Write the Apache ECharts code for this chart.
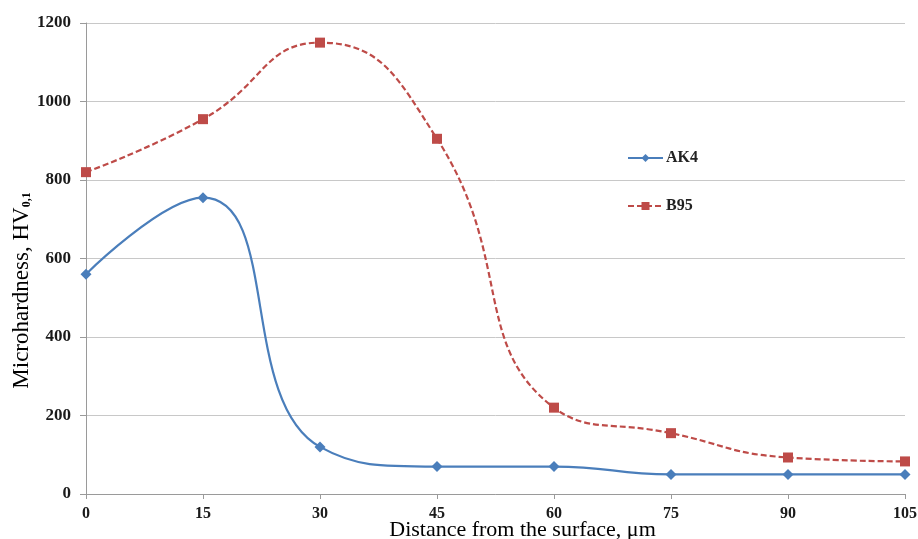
<!DOCTYPE html>
<html><head><meta charset="utf-8">
<script src="https://cdn.jsdelivr.net/npm/echarts@6/dist/echarts.min.js"></script>
<style>html,body{margin:0;padding:0;background:#fff}#c{width:918px;height:539px}</style>
</head><body><div id="c"></div>
<script>
var distances = [0, 15, 30, 45, 60, 75, 90, 105];
var ak4 = [560, 755, 120, 70, 70, 50, 50, 50];
var b95 = [820, 955, 1150, 905, 220, 155, 93, 83];
var yTicks = [0, 200, 400, 600, 800, 1000, 1200];

function pairs(xs, ys){ return xs.map(function(x,i){ return [x, ys[i]]; }); }

var chart = echarts.init(document.getElementById('c'));
var serif = '"Liberation Serif", "Times New Roman", serif';
chart.setOption({
  animation: false,
  backgroundColor: '#fff',
  grid: {left: 86, right: 13, top: 23, bottom: 45, containLabel: false, outerBoundsMode: 'none'},
  legend: {
    orient: 'vertical', left: 622, top: 145, itemGap: 32,
    itemWidth: 35, itemHeight: 10,
    textStyle: {fontFamily: serif, fontWeight: 'bold', fontSize: 16, color: '#222', padding: [0,0,0,-2]},
    data: ['AK4', 'B95']
  },
  xAxis: {
    type: 'value', min: 0, max: 105, interval: 15,
    name: 'Distance from the surface, \u03bcm', nameLocation: 'middle', nameGap: 25,
    nameMoveOverlap: false,
    nameTextStyle: {fontFamily: serif, fontSize: 22, color: '#000', padding: [0,0,0,54]},
    axisLine: {show: true, lineStyle: {color: '#9a9a9a', width: 1}},
    axisTick: {show: true, inside: false, length: 5, lineStyle: {color: '#9a9a9a'}},
    axisLabel: {fontFamily: serif, fontWeight: 'bold', fontSize: 16, color: '#1a1a1a', margin: 12},
    splitLine: {show: false}
  },
  yAxis: {
    type: 'value', min: 0, max: 1200, interval: 200,
    name: 'Microhardness, HV{sub|0,1}', nameLocation: 'middle', nameGap: 53, nameRotate: 90,
    nameMoveOverlap: false,
    nameTextStyle: {fontFamily: serif, fontSize: 23, color: '#000', padding: [0,64,0,0],
      rich: {sub: {fontFamily: serif, fontSize: 12, fontWeight: 'bold', verticalAlign: 'bottom', padding: [10,0,0,0]}}},
    axisLine: {show: true, lineStyle: {color: '#9a9a9a', width: 1}},
    axisTick: {show: true, inside: false, length: 6, lineStyle: {color: '#9a9a9a'}},
    axisLabel: {fontFamily: serif, fontWeight: 'bold', fontSize: 17, color: '#1a1a1a', margin: 15,
      formatter: function(v){ return String(v); }},
    splitLine: {show: true, lineStyle: {color: '#c8c8c8', width: 1}}
  },
  series: [
    {
      name: 'AK4', type: 'line', smooth: 0.5, data: pairs(distances, ak4),
      symbol: 'diamond', symbolSize: 11,
      lineStyle: {color: '#4a7ebb', width: 2.2},
      itemStyle: {color: '#4a7ebb'}
    },
    {
      name: 'B95', type: 'line', smooth: 0.5, data: pairs(distances, b95),
      symbol: 'rect', symbolSize: 10,
      lineStyle: {color: '#be4b48', width: 2.2, type: [6, 3]},
      itemStyle: {color: '#be4b48'}
    }
  ]
});
</script></body></html>
